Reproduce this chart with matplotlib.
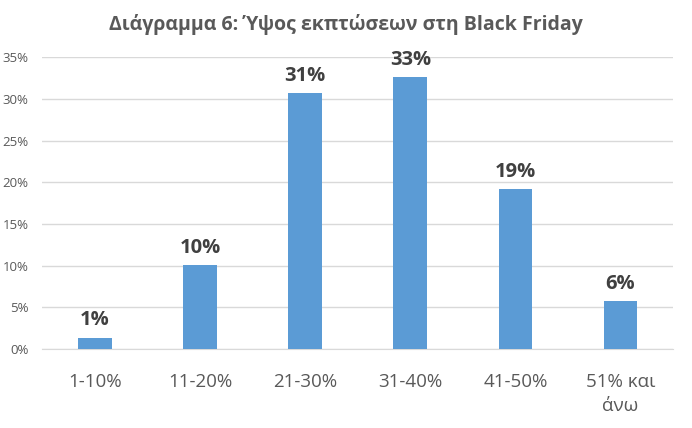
import matplotlib
matplotlib.use("Agg")
import matplotlib.pyplot as plt
from matplotlib.ticker import FuncFormatter

categories = ["1-10%", "11-20%", "21-30%", "31-40%", "41-50%", "51% και\nάνω"]
shares = [1.36, 10.05, 30.7, 32.6, 19.2, 5.7]
labels = ["1%", "10%", "31%", "33%", "19%", "6%"]

plt.rcParams['font.family'] = ['Open Sans', 'DejaVu Sans']

fig = plt.figure(figsize=(6.92, 4.28), dpi=100)
ax = fig.add_axes([0.0614, 0.1846, 0.9112, 0.6814])

x = range(len(categories))
bars = ax.bar(x, shares, width=0.32, color='#5B9BD5', zorder=3)

for b, lab in zip(bars, labels):
    ax.text(b.get_x() + b.get_width() / 2, b.get_height() + 0.9, lab,
            ha='center', va='bottom', fontsize=14.5, fontweight='bold', color='#404040')

ax.set_xlim(-0.5, len(categories) - 0.5)
ax.set_ylim(0, 35)
ax.set_yticks(range(0, 36, 5))
ax.yaxis.set_major_formatter(FuncFormatter(lambda v, p: f"{int(v)}%"))
ax.set_xticks(list(x))
ax.set_xticklabels(categories, fontsize=13.5, color='#595959', linespacing=1.45)
ax.tick_params(axis='y', labelsize=9.5, labelcolor='#595959', length=0, pad=10)
ax.tick_params(axis='x', length=0, pad=17)

ax.grid(axis='y', color='#D9D9D9', linewidth=1, zorder=0)
for s in ['top', 'right', 'left']:
    ax.spines[s].set_visible(False)
ax.spines['bottom'].set_color('#D9D9D9')

fig.suptitle("Διάγραμμα 6: Ύψος εκπτώσεων στη Black Friday", x=0.5, y=0.968,
             fontsize=14, fontweight='bold', color='#595959')

fig.savefig("out.png", dpi=100)
